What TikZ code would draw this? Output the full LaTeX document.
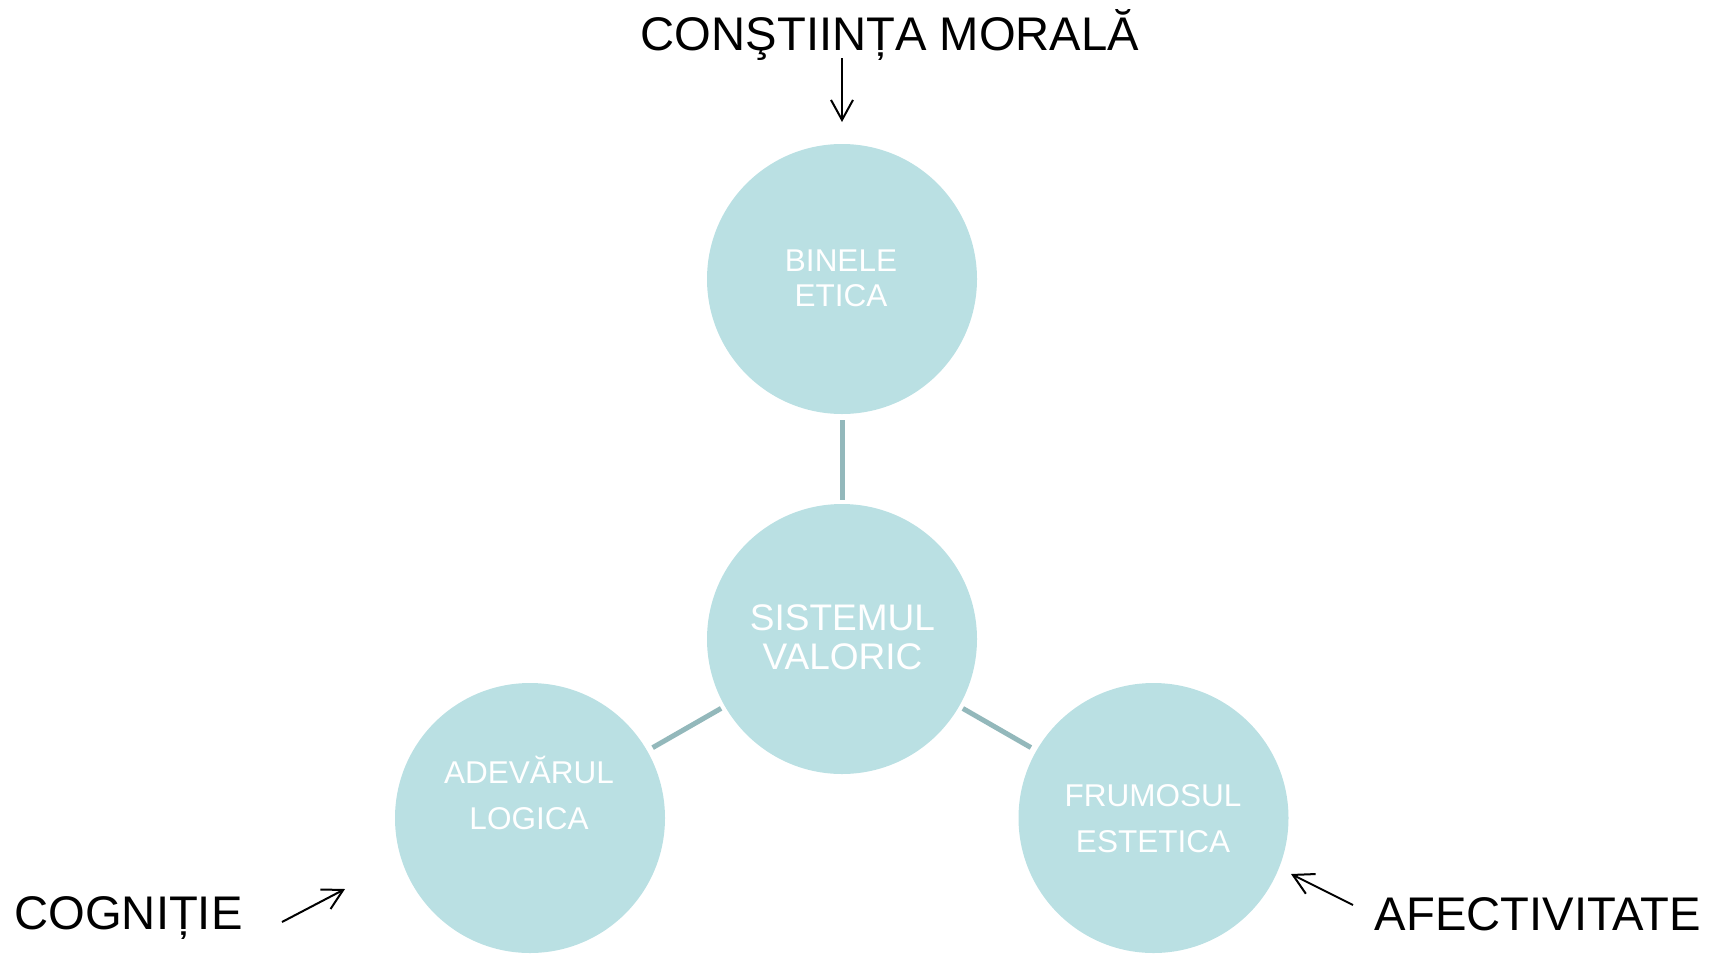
\documentclass[tikz,border=0pt]{standalone}
\usepackage{fontspec}
\setmainfont{Liberation Sans}
\usetikzlibrary{arrows.meta}
\definecolor{bubblefill}{RGB}{186,224,227}
\definecolor{linkcol}{RGB}{147,184,187}
\begin{document}
\begin{tikzpicture}[x=0.5pt,y=-0.5pt,
  bubble/.style={circle,fill=bubblefill,minimum size=135pt,inner sep=0pt},
  wtext/.style={text=white,inner sep=0pt,anchor=base},
  small/.style={wtext,font=\fontsize{15.75pt}{15.75pt}\selectfont},
  big/.style={wtext,font=\fontsize{18.5pt}{18.5pt}\selectfont},
  btext/.style={inner sep=0pt,anchor=base,font=\fontsize{23.6pt}{23.6pt}\selectfont},
  linkline/.style={draw=linkcol,line width=2.5pt},
  pointer/.style={draw=black,line width=1pt,-{Straight Barb[length=10pt,width=11pt]}}]
\useasboundingbox (0,0) rectangle (1725,954);
% circles
\node[bubble] (top) at (842,279) {};
\node[bubble] (mid) at (842,639) {};
\node[bubble] (left) at (530,818) {};
\node[bubble] (right) at (1153.5,818) {};
% connectors
\draw[linkline,shorten <=3pt,shorten >=2pt] (top) -- (mid);
\draw[linkline,shorten <=2pt,shorten >=3pt] (mid) -- (left);
\draw[linkline,shorten <=2pt,shorten >=3pt] (mid) -- (right);
% circle texts
\node[small] (t1) at (841,271.7) {BINELE};
\node[small] (t2) at (841,306) {ETICA};
\node[big] (m1) at (842.5,630.7) {SISTEMUL};
\node[big] (m2) at (842.5,669) {VALORIC};
\node[small] (l1) at (529,783) {ADEVĂRUL};
\node[small] (l2) at (529,829) {LOGICA};
\node[small] (r1) at (1153,806.7) {FRUMOSUL};
\node[small] (r2) at (1153,852.7) {ESTETICA};
% outer labels
\node[btext] (moral) at (890,50.5) {CONŞTIINȚA MORALĂ};
\node[btext] (cogn) at (128.5,929) {COGNIȚIE};
\node[btext] (afect) at (1538,930) {AFECTIVITATE};
% pointers
\coordinate (moralA) at (842,58);
\coordinate (moralB) at (842,122);
\coordinate (cognA) at (282,922);
\coordinate (cognB) at (345,889);
\coordinate (afectA) at (1353,905);
\coordinate (afectB) at (1291,874);
\draw[pointer] (moralA) -- (moralB);
\draw[pointer] (cognA) -- (cognB);
\draw[pointer] (afectA) -- (afectB);
\end{tikzpicture}
\end{document}
